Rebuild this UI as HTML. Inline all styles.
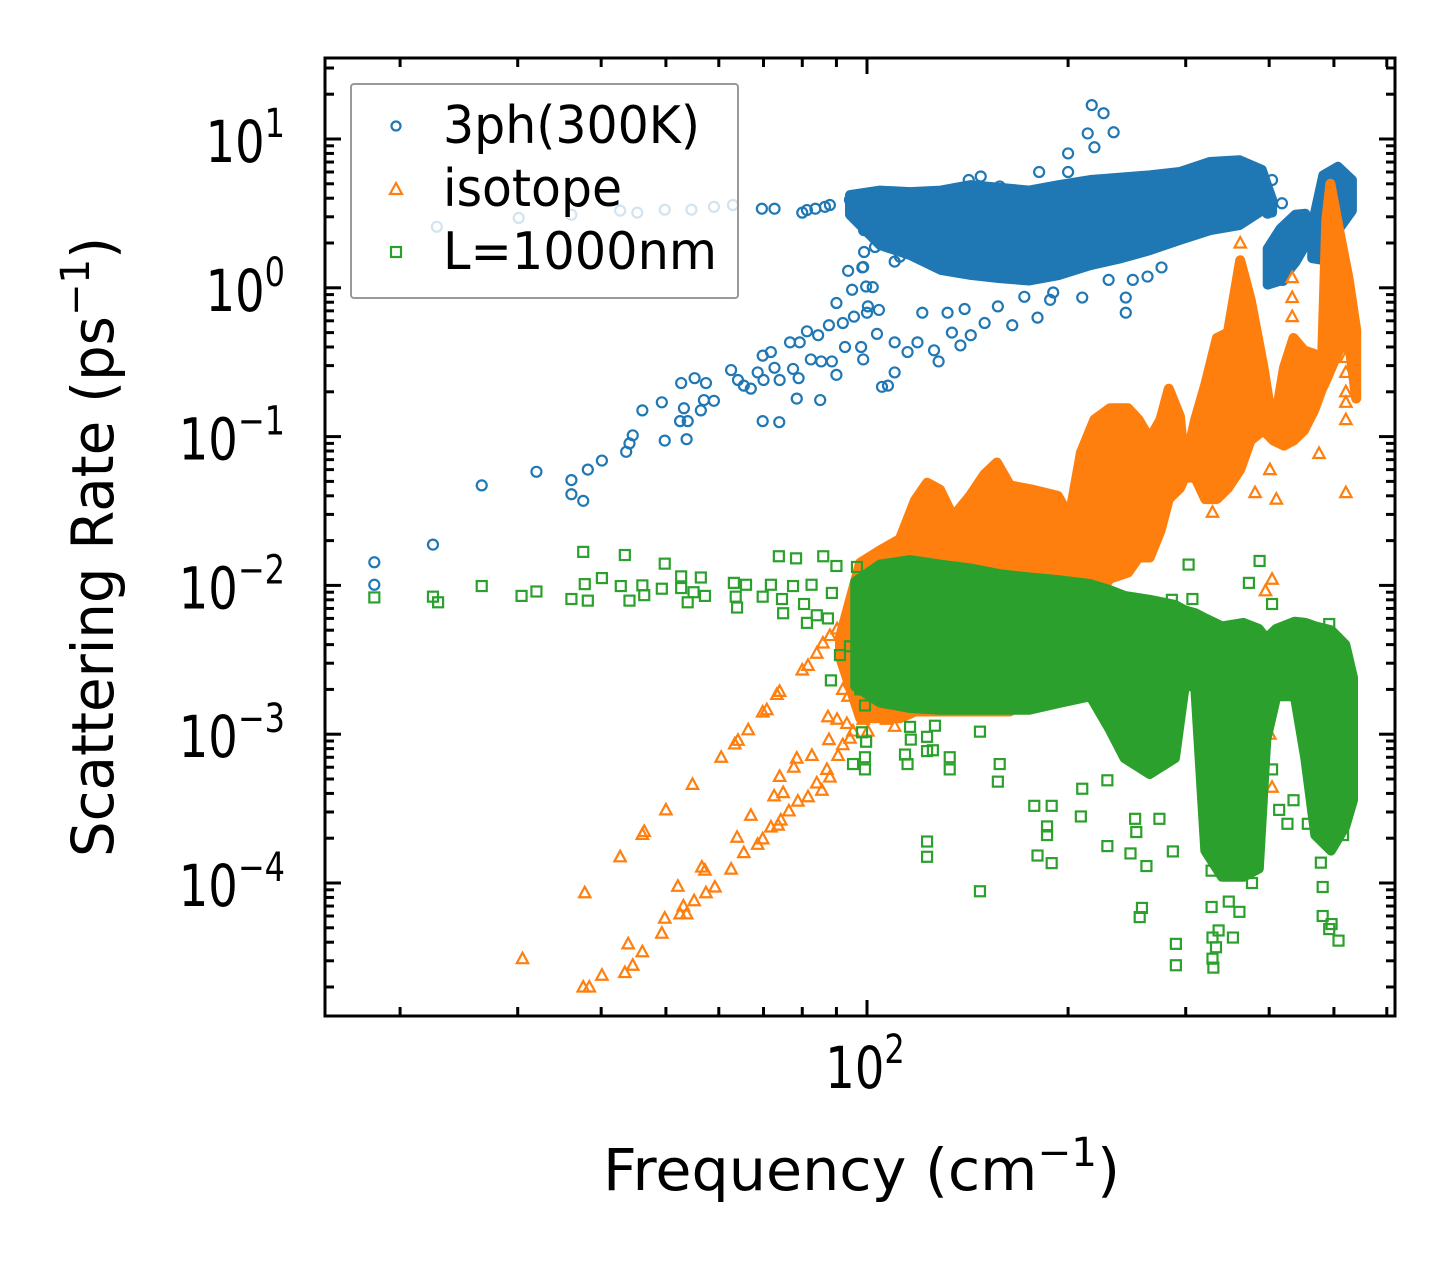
<!DOCTYPE html>
<html><head><meta charset="utf-8"><style>
html,body{margin:0;padding:0;background:#fff;}
svg{display:block;font-family:"DejaVu Sans","Liberation Sans",sans-serif;}
</style></head><body>
<svg id="chart" xmlns="http://www.w3.org/2000/svg" width="1455" height="1265" viewBox="0 0 1455 1265">
<rect width="1455" height="1265" fill="#fff"/>
<g id="marks"></g>
<g id="axes"></g>
<g id="legend"></g>
</svg>
<script>
// ===== data =====
const xMajorTicks = [100];
const xTickLabels = ["2"];
const yMajorExps = [1, 0, -1, -2, -3, -4];

// 3ph(300K) scatter
const blueFreq = [18.3,18.3,22.4,26.5,32.0,36.1,36.1,37.6,38.2,40.1,43.6,44.1,44.6,46.1,49.3,49.8,52.7,53.2,52.5,53.9,53.7,55.2,57.4,57.0,59.0,56.4,62.6,64.1,65.4,67.0,68.6,69.8,71.8,72.7,70.0,74.0,76.7,79.3,77.5,79.0,78.5,69.8,73.9,85.1,81.3,84.5,82.4,85.4,88.6,90.0,87.7,90.0,93.7,98.4,99.0,102.8,95.0,99.7,92.0,95.6,100.3,92.7,98.0,98.7,103.5,104.2,105.3,81.3,86.5,95.6,99.0,99.0,102.8,105.3,22.7,30.1,36.1,42.7,45.3,49.8,54.6,59.0,63.0,69.6,72.7,80.0,83.7,88.0,94.3,217,226,234,214,200,219,181,200,200,165,158,148,142,130,117,102,98.7,110,112,102,100,110,115,119,126,128,107.5,110,134,138,143,150,165,180,188,210,244,244,230,250,263,276,121,132,140,157,172,190,404,418,398,368,419,505];
const blueRate = [0.0143,0.0101,0.0188,0.047,0.058,0.051,0.041,0.037,0.060,0.069,0.079,0.090,0.102,0.150,0.170,0.094,0.229,0.155,0.127,0.127,0.096,0.247,0.229,0.176,0.174,0.150,0.28,0.24,0.22,0.21,0.27,0.35,0.37,0.29,0.24,0.24,0.43,0.43,0.285,0.247,0.18,0.127,0.125,0.176,0.51,0.48,0.33,0.32,0.32,0.26,0.56,0.79,1.30,1.37,1.74,1.88,0.97,1.02,0.58,0.64,0.75,0.40,0.40,0.33,0.49,0.71,0.216,3.33,3.5,3.9,2.85,2.44,2.73,2.33,2.57,2.95,3.1,3.3,3.2,3.35,3.35,3.5,3.6,3.4,3.4,3.2,3.4,3.6,3.9,16.9,14.9,11.1,10.9,8.0,8.8,6.0,6.0,4.1,4.0,4.8,5.6,5.3,4.4,4.0,3.9,1.38,1.50,1.62,1.01,0.68,0.43,0.37,0.43,0.38,0.32,0.22,0.27,0.50,0.41,0.48,0.58,0.56,0.63,0.83,0.86,0.86,0.68,1.13,1.13,1.19,1.37,0.68,0.68,0.72,0.75,0.87,0.93,5.3,3.7,3.2,2.86,1.13,6.0];
// 3ph dense envelopes
const blueBandFreq = [94.3,104.6,116,129,143,158,175,194,216,240,265,294,326,361,390,404];
const blueBandHigh = [4.2,4.5,4.4,4.5,4.9,4.7,4.5,4.9,5.3,5.5,5.7,6.0,7.0,7.2,6.2,3.9];
const blueBandLow  = [3.1,1.94,1.66,1.32,1.22,1.16,1.12,1.22,1.42,1.58,1.79,2.1,2.44,2.64,3.3,3.2];
const blueBlob1Freq = [398,416,438,453];
const blueBlob1High = [1.83,2.5,3.1,3.15];
const blueBlob1Low  = [1.05,1.12,1.49,1.94];
const blueBlob2Freq = [464,482,507,532];
const blueBlob2High = [2.6,5.7,6.5,5.3];
const blueBlob2Low  = [1.58,1.54,2.44,3.3];

// isotope scatter
const orangeFreq = [37.8,42.7,46.1,46.4,50.0,54.8,60.5,63.4,64.1,66.4,69.8,70.8,73.3,74.0,80.0,81.6,84.1,85.9,88.0,90.2,37.6,38.4,40.1,43.4,44.6,43.9,46.1,49.3,49.8,52.5,53.7,53.1,55.1,52.1,57.4,59.2,56.6,57.2,62.6,63.9,65.4,67.0,68.6,69.8,71.8,73.6,74.3,72.6,74.9,76.4,78.8,81.6,74.0,78.5,82.7,77.7,84.1,85.6,87.1,88.0,90.5,92.0,94.3,87.7,87.4,90.2,93.3,95.3,92.0,93.7,98.7,100.3,97.0,108.2,110,107,30.5,433,433,433,362,521,521,521,521,521,475,350,362,521,381,333,329,401,410,404,395,401,404];
const orangeRate = [0.000086,0.000150,0.000212,0.000222,0.00031,0.00046,0.00070,0.00086,0.00091,0.00107,0.00141,0.00146,0.00185,0.00194,0.0027,0.0029,0.0035,0.0041,0.0046,0.0051,0.0000200,0.0000200,0.0000240,0.0000250,0.0000280,0.0000390,0.0000345,0.0000460,0.0000580,0.0000620,0.0000620,0.0000700,0.0000760,0.0000950,0.0000860,0.0000940,0.000128,0.000122,0.000124,0.000203,0.000160,0.000285,0.000182,0.000198,0.000238,0.000245,0.000265,0.000385,0.000405,0.000305,0.000355,0.000380,0.000520,0.000690,0.000720,0.000600,0.000470,0.000420,0.000580,0.000515,0.000720,0.000850,0.000940,0.000920,0.00131,0.00126,0.00118,0.00105,0.00200,0.00180,0.00126,0.00105,0.00240,0.00200,0.00113,0.00126,0.0000310,1.17,0.86,0.64,2.0,0.34,0.27,0.20,0.17,0.13,0.077,0.094,0.114,0.042,0.042,0.052,0.031,0.060,0.038,0.0110,0.0092,0.00100,0.00044];
const orangeBandFreq = [91.1,97.7,104.6,112,118,123,128.6,134.5,142.6,150,156.5,163.7,177,193,201,209,219,231,246,255,265,275,283,294,299,310,321,334,347,362,375,392,406,421,435,451,467,480,487,494,509,526,540];
const orangeBandHigh = [0.0045,0.0142,0.0172,0.0205,0.0373,0.049,0.044,0.029,0.040,0.056,0.067,0.047,0.044,0.040,0.029,0.078,0.130,0.155,0.155,0.130,0.097,0.130,0.21,0.137,0.063,0.130,0.223,0.46,0.50,1.53,0.84,0.297,0.11,0.29,0.46,0.38,0.36,0.33,2.85,5.0,2.44,1.15,0.52];
const orangeBandLow  = [0.0033,0.00128,0.00128,0.00128,0.00142,0.00142,0.00142,0.00142,0.00142,0.00142,0.00142,0.00142,0.0018,0.0021,0.0024,0.0045,0.0081,0.0111,0.0122,0.0154,0.0154,0.0233,0.038,0.045,0.053,0.053,0.038,0.038,0.045,0.060,0.094,0.11,0.094,0.087,0.094,0.11,0.15,0.21,0.24,0.28,0.38,0.45,0.18];

// L=1000nm scatter
const greenFreq = [18.3,22.4,22.8,26.5,30.4,32.0,37.6,43.4,36.1,38.2,37.8,40.1,42.8,44.1,46.1,46.4,49.8,52.7,56.4,49.3,52.7,55.0,53.9,57.2,73.8,78.3,86.0,90.0,63.2,65.9,71.8,77.5,82.6,63.6,69.8,74.6,80.5,88.6,96.6,63.9,74.9,81.3,84.1,87.4,88.3,91.1,94.3,97.7,99.3,102,103.5,95.3,99.3,115,123,116.3,123,126.4,133,98.3,99.7,303,387,286,307,373,404,492,99.3,114,125.5,133,116,123,147.6,158,157,123,147.6,178,189,186,186,180,189,210,209,229,229,248,262,252,253,274,258,256,287,290,328,328,336,329,333,353,348,361,377,404,414,426,435,457,481,481,496,516,478,524,329,330,290,508,492];
const greenRate = [0.0083,0.0084,0.0077,0.0099,0.0085,0.0091,0.0168,0.0160,0.0081,0.0079,0.0102,0.0112,0.0099,0.0079,0.0100,0.0086,0.0140,0.0115,0.0113,0.0095,0.0096,0.0090,0.0077,0.0085,0.0157,0.0152,0.0157,0.0135,0.0104,0.0101,0.0101,0.0099,0.0101,0.0084,0.0084,0.0081,0.0075,0.0089,0.0133,0.0071,0.0065,0.0056,0.0063,0.0060,0.0023,0.0034,0.0039,0.0020,0.00156,0.0024,0.0021,0.00063,0.00058,0.00063,0.000150,0.00092,0.00077,0.00114,0.00058,0.00103,0.00089,0.0138,0.0146,0.0080,0.0081,0.0104,0.0075,0.0055,0.00070,0.00073,0.00078,0.00070,0.00112,0.00096,0.00104,0.00063,0.00048,0.00019,0.000088,0.00033,0.00033,0.00024,0.00021,0.000153,0.000136,0.00043,0.00028,0.00049,0.000177,0.000158,0.000130,0.00027,0.00022,0.00027,0.000068,0.000059,0.000163,0.000039,0.000121,0.000069,0.000048,0.000043,0.000037,0.000043,0.000075,0.000064,0.0001,0.00058,0.00031,0.00025,0.00036,0.00025,0.000094,0.000060,0.000053,0.00021,0.000137,0.00045,0.000031,0.000027,0.000028,0.000041,0.000049];
const greenBandFreq = [96,104.6,116,128.6,142.6,158,175,195,216,231,243,265,289,299,310,321,340,366,386,396,410,437,453,469,495,520,534];
const greenBandHigh = [0.0106,0.0138,0.0148,0.0138,0.0130,0.0119,0.0113,0.0108,0.0102,0.0093,0.0085,0.0080,0.0074,0.0068,0.0065,0.0060,0.0053,0.0056,0.0051,0.0044,0.0051,0.0057,0.0056,0.0053,0.0050,0.0040,0.0024];
const greenBandLow  = [0.0021,0.00163,0.0015,0.00146,0.00146,0.00146,0.00146,0.00163,0.0018,0.00107,0.00069,0.00054,0.00069,0.0021,0.0021,0.000165,0.00011,0.00011,0.000125,0.00092,0.0018,0.0018,0.00069,0.00021,0.000165,0.00024,0.00036];

// ===== axes functions =====
const L=325,R=1395,T=58,B=1016;
function X(f){return 867+668*(Math.log10(f)-2);}
function Y(r){return 139-148.8*(Math.log10(r)-1);}
const NS="http://www.w3.org/2000/svg";
function mk(tag,attrs,parent){const e=document.createElementNS(NS,tag);for(const k in attrs)e.setAttribute(k,attrs[k]);parent.appendChild(e);return e;}
const marks=document.getElementById('marks');
const axes=document.getElementById('axes');
const legend=document.getElementById('legend');
const C1='#1f77b4',C2='#ff7f0e',C3='#2ca02c';

function band(fr,hi,lo,color,name){
  let pts=[];
  for(let i=0;i<fr.length;i++)pts.push(X(fr[i]).toFixed(1)+','+Y(hi[i]).toFixed(1));
  for(let i=fr.length-1;i>=0;i--)pts.push(X(fr[i]).toFixed(1)+','+Y(lo[i]).toFixed(1));
  const p=mk('polygon',{points:pts.join(' '),fill:color,stroke:color,'stroke-width':10,'stroke-linejoin':'round'},marks);
  
  
}
function circ(cx,cy,color,r,parent){return mk('circle',{cx:cx,cy:cy,r:r,fill:'none',stroke:color,'stroke-width':2.2},parent);}
function tri(cx,cy,color,s,parent){return mk('polygon',{points:`${cx},${cy-s} ${cx-s*0.95},${cy+s*0.75} ${cx+s*0.95},${cy+s*0.75}`,fill:'none',stroke:color,'stroke-width':2.2},parent);}
function sq(cx,cy,color,s,parent){return mk('rect',{x:cx-s,y:cy-s,width:2*s,height:2*s,fill:'none',stroke:color,'stroke-width':2.2},parent);}

// 3ph
band(blueBandFreq,blueBandHigh,blueBandLow,C1,'3ph-dense-band');
band(blueBlob1Freq,blueBlob1High,blueBlob1Low,C1,'3ph-dense-blob-1');
band(blueBlob2Freq,blueBlob2High,blueBlob2Low,C1,'3ph-dense-blob-2');
for(let i=0;i<blueFreq.length;i++){
  const e=circ(X(blueFreq[i]),Y(blueRate[i]),C1,5,marks);
  
  
}
// isotope
band(orangeBandFreq,orangeBandHigh,orangeBandLow,C2,'isotope-dense-band');
for(let i=0;i<orangeFreq.length;i++){
  const e=tri(X(orangeFreq[i]),Y(orangeRate[i]),C2,6,marks);
  
  
}
// L=1000nm
band(greenBandFreq,greenBandHigh,greenBandLow,C3,'boundary-dense-band');
for(let i=0;i<greenFreq.length;i++){
  const e=sq(X(greenFreq[i]),Y(greenRate[i]),C3,5,marks);
  
  
}

// ===== axes =====
const frame=mk('rect',{x:L,y:T,width:R-L,height:B-T,fill:'none',stroke:'#000','stroke-width':3},axes);


function tick(x1,y1,x2,y2,name){const t=mk('line',{x1:x1,y1:y1,x2:x2,y2:y2,stroke:'#000','stroke-width':3},axes);}
// y ticks
for(let e=-5;e<=1;e++){
  for(let k=1;k<=9;k++){
    const y=Y(k*Math.pow(10,e));
    if(y<T+1||y>B-1)continue;
    const len=k===1?16:9;
    tick(L,y,L+len,y,k===1?'y-major-tick':'y-minor-tick');
    tick(R,y,R-len,y,k===1?'y-major-tick':'y-minor-tick');
  }
}
// x ticks
for(let e=1;e<=2;e++){
  for(let k=1;k<=9;k++){
    const x=X(k*Math.pow(10,e));
    if(x<L+1||x>R-1)continue;
    const len=k===1?16:9;
    tick(x,B,x,B-len,k===1?'x-major-tick':'x-minor-tick');
    tick(x,T,x,T+len,k===1?'x-major-tick':'x-minor-tick');
  }
}
// y tick labels
yMajorExps.forEach(function(ex){
  const y=Y(Math.pow(10,ex));
  const t=mk('text',{transform:`translate(285,${y+23}) scale(0.8,1)`,'text-anchor':'end','font-size':58,fill:'#000'},axes);
  
  
  const a=mk('tspan',{},t);a.textContent='10';
  const b=mk('tspan',{'font-size':40,dy:-25},t);b.textContent=(ex<0?'\u2212':'')+Math.abs(ex);
});
// x tick labels
xMajorTicks.forEach(function(v,i){
  const x=X(v);
  const t=mk('text',{transform:`translate(${x-2},1088) scale(0.8,1)`,'text-anchor':'middle','font-size':58,fill:'#000'},axes);
  
  
  const a=mk('tspan',{},t);a.textContent='10';
  const b=mk('tspan',{'font-size':40,dy:-25},t);b.textContent=xTickLabels[i];
});
</script>
<script>
(function(){
const NS="http://www.w3.org/2000/svg";
const axes=document.getElementById('axes');
const legend=document.getElementById('legend');
function mk(tag,attrs,parent){const e=document.createElementNS(NS,tag);for(const k in attrs)e.setAttribute(k,attrs[k]);parent.appendChild(e);return e;}
// axis titles
const xt=mk('text',{x:603,y:1190,'font-size':58,textLength:517,lengthAdjust:'spacingAndGlyphs',fill:'#000'},axes);


xt.innerHTML='Frequency (cm<tspan font-size="40" dy="-24">\u22121</tspan><tspan dy="24">)</tspan>';
const yt=mk('text',{transform:'translate(113,857) rotate(-90)','font-size':58,textLength:620,lengthAdjust:'spacingAndGlyphs',fill:'#000'},axes);


yt.innerHTML='Scattering Rate (ps<tspan font-size="40" dy="-24">\u22121</tspan><tspan dy="24">)</tspan>';
// legend
const box=mk('rect',{x:351,y:84,width:387,height:214,rx:3,fill:'#fff','fill-opacity':0.8,stroke:'#999','stroke-width':2},legend);


const entries=[['3ph(300K)','#1f77b4',126,143,257],['isotope','#ff7f0e',189,206,179],['L=1000nm','#2ca02c',252,269,274]];
entries.forEach(function(en,i){
  let m;
  if(i===0)m=mk('circle',{cx:396,cy:en[2],r:4.5,fill:'none',stroke:en[1],'stroke-width':2.2},legend);
  else if(i===1)m=mk('polygon',{points:`396,${en[2]-6} 390,${en[2]+5} 402,${en[2]+5}`,fill:'none',stroke:en[1],'stroke-width':2.2},legend);
  else m=mk('rect',{x:391,y:en[2]-5,width:10,height:10,fill:'none',stroke:en[1],'stroke-width':2.2},legend);
  
  
  const t=mk('text',{x:443,y:en[3],'font-size':52,textLength:en[4],lengthAdjust:'spacingAndGlyphs',fill:'#000'},legend);
  
  
  t.textContent=en[0];
});
})();
</script>
</body></html>
